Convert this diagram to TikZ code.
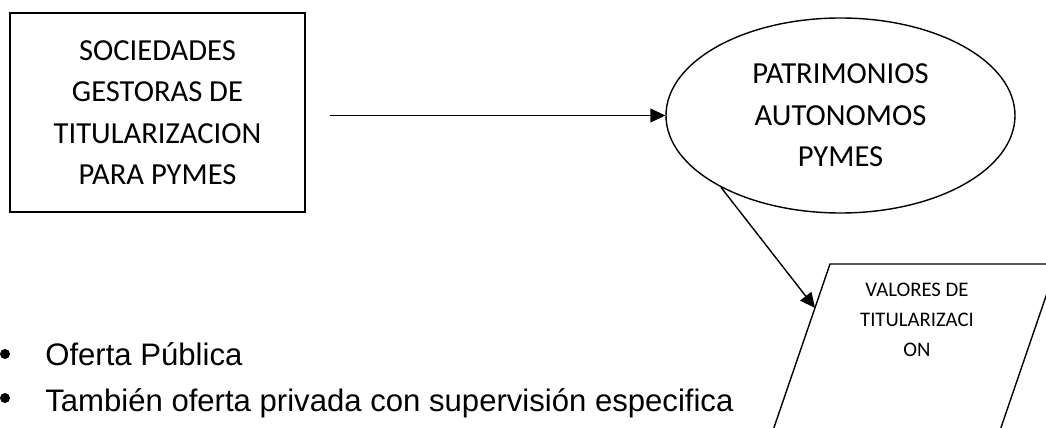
\documentclass[tikz,border=0pt]{standalone}
\usepackage{fontspec}
\setmainfont{Carlito}
\newfontfamily\arialfont{Liberation Sans}
\usetikzlibrary{arrows.meta,shapes.geometric}

\begin{document}
\begin{tikzpicture}[
        entity/.style={draw, line width=0.8pt, align=center, minimum width=5.9cm, minimum height=3.98cm, inner sep=0pt, font=\fontsize{17.4}{23.6}\selectfont},
        fund/.style={draw, ellipse, line width=0.8pt, align=center, minimum width=6.98cm, minimum height=3.9cm, inner sep=0pt, font=\fontsize{17.4}{23.6}\selectfont},
        outline/.style={line width=0.8pt},
        security/.style={align=center, inner sep=0pt, font=\fontsize{11.8}{17}\selectfont},
        flow/.style={-{Triangle[length=0.3cm, width=0.28cm]}, line width=0.8pt},
        item/.style={anchor=base west, inner sep=0pt, font=\arialfont\fontsize{17.7}{20}\selectfont},
        dot/.style={circle, fill, inner sep=0pt, minimum size=0.2cm}
    ]
        \path[use as bounding box] (0, 0) rectangle (20.92, 8.54);
        \clip (0, 0) rectangle (20.92, 8.54);

        \node[entity] (sociedades) at (3.15, 6.29) {SOCIEDADES\\GESTORAS DE\\TITULARIZACION\\PARA PYMES};
        \node[fund] (patrimonios) at (16.81, 6.23) {PATRIMONIOS\\AUTONOMOS\\PYMES};

        % parallelogram runs past the lower right edge
        \coordinate (vTL) at (16.6, 3.26);
        \coordinate (vTR) at (21.14, 3.26);
        \coordinate (vBR) at (19.9, -0.36);
        \coordinate (vBL) at (15.36, -0.36);
        \coordinate (vhit) at (16.3, 2.38);
        \draw[outline] (vBL) -- (vTL) -- (vTR) -- (vBR) -- cycle;
        \node[security] (valores) at (18.34, 2.14) {VALORES DE\\TITULARIZACI\\ON};

        \draw[flow] ([xshift=0.48cm]sociedades.east |- patrimonios.west) -- (patrimonios.west);
        \draw[flow] (patrimonios.211) -- (vhit);

        \node[dot] (b1) at (0.1, 1.46) {};
        \node[dot] (b2) at (0.1, 0.58) {};
        \node[item] (oferta) at (0.9, 1.24) {Oferta Pública};
        \node[item] (privada) at (0.9, 0.32) {También oferta privada con supervisión especifica};
    \end{tikzpicture}
\end{document}
